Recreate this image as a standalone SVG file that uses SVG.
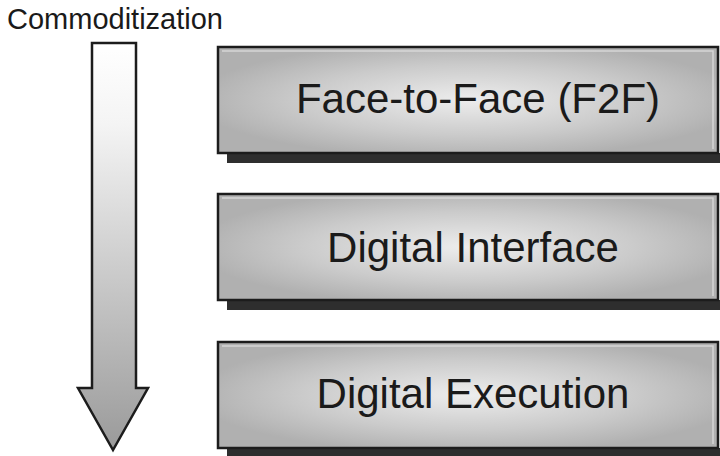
<svg xmlns="http://www.w3.org/2000/svg" width="720" height="456" viewBox="0 0 720 456">
  <defs>
    <linearGradient id="arrowFill" x1="0" y1="0" x2="0" y2="1">
      <stop offset="0" stop-color="#ffffff"/>
      <stop offset="0.2" stop-color="#f4f4f4"/>
      <stop offset="1" stop-color="#9a9a9a"/>
    </linearGradient>
    <radialGradient id="boxFill" cx="0.5" cy="0.5" r="0.55">
      <stop offset="0" stop-color="#ededed"/>
      <stop offset="0.6" stop-color="#cbcbcb"/>
      <stop offset="1" stop-color="#b0b0b0"/>
    </radialGradient>
    <style>
      .label { font-family: "Liberation Sans", Arial, sans-serif; fill: #1a1a1a; }
      .box { fill: url(#boxFill); stroke: #1c1c1c; stroke-width: 2.5; }
      .shadow { fill: #2e2e2e; }
      .bevel { fill: none; stroke: #e0e0e0; stroke-width: 1.5; opacity: 0.8; }
      .title { font-size: 42px; text-anchor: middle; }
    </style>
  </defs>

  <rect width="720" height="456" fill="#ffffff"/>

  <text class="label" x="7" y="29" font-size="29">Commoditization</text>

  <!-- downward trend arrow -->
  <g id="connectors">
    <path d="M92,43 H136 V388 H148 L113,450 L78,388 H92 Z" fill="url(#arrowFill)" stroke="#1c1c1c" stroke-width="2.5" stroke-linejoin="miter"/>
  </g>

  <g id="f2f">
    <rect class="shadow" x="227" y="153" width="493" height="10"/>
    <rect class="box" x="218" y="47" width="500" height="106"/>
    <path class="bevel" d="M222,51 H713 V149"/>
    <text class="label title" x="478" y="113">Face-to-Face (F2F)</text>
  </g>

  <g id="digital-interface">
    <rect class="shadow" x="227" y="300" width="493" height="10"/>
    <rect class="box" x="218" y="194" width="500" height="106"/>
    <path class="bevel" d="M222,198 H713 V296"/>
    <text class="label title" x="473" y="262">Digital Interface</text>
  </g>

  <g id="digital-execution">
    <rect class="shadow" x="227" y="448" width="493" height="10"/>
    <rect class="box" x="218" y="342" width="500" height="106"/>
    <path class="bevel" d="M222,346 H713 V444"/>
    <text class="label title" x="473" y="408">Digital Execution</text>
  </g>
</svg>
